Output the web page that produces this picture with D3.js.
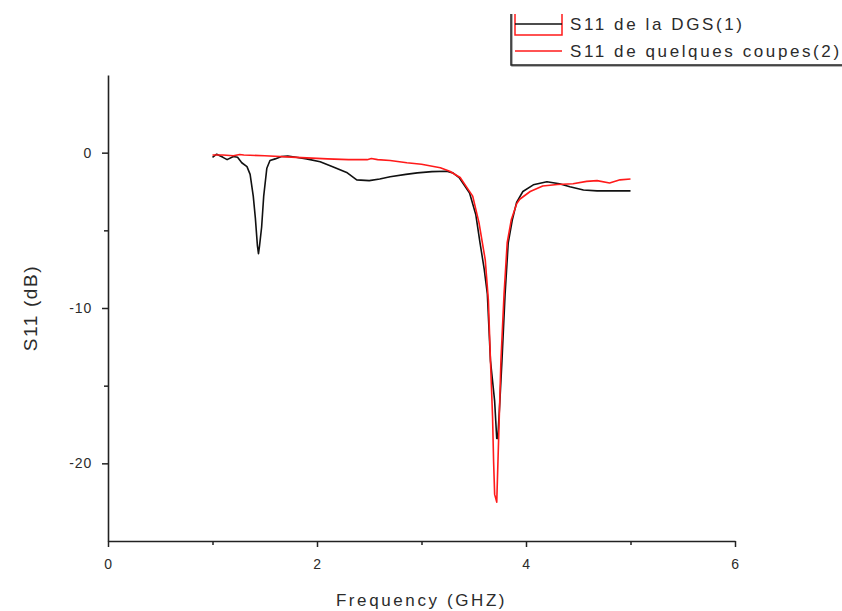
<!DOCTYPE html>
<html>
<head>
<meta charset="utf-8">
<script src="https://cdn.jsdelivr.net/npm/d3@7/dist/d3.min.js"></script>
<style>
  body { margin: 0; background: #fff; }
  .chart-text { font-family: "Liberation Sans", Arial, sans-serif; fill: #2b2b2b; }
</style>
</head>
<body>
<div id="chart"></div>
<script>
'use strict';

// S11 de la DGS (1) : frequency (GHz), S11 (dB)
var dgsFreq = [1.00, 1.04, 1.10, 1.14, 1.20, 1.24, 1.28, 1.33, 1.36, 1.39, 1.41, 1.43, 1.44, 1.45, 1.47, 1.49,
  1.52, 1.55, 1.60, 1.66, 1.72, 1.80, 1.90, 2.03, 2.15, 2.29, 2.38, 2.50, 2.60, 2.70, 2.85, 2.96, 3.10, 3.24,
  3.30, 3.36, 3.42, 3.46, 3.52, 3.56, 3.60, 3.63, 3.66, 3.70, 3.72, 3.73, 3.75, 3.77, 3.80, 3.83, 3.87, 3.91,
  3.97, 4.07, 4.20, 4.32, 4.42, 4.55, 4.68, 4.85, 5.00];
var dgsS11 = [-0.30, -0.10, -0.30, -0.45, -0.25, -0.30, -0.65, -0.90, -1.40, -2.80, -4.20, -6.00, -6.50, -6.00, -4.80, -2.80,
  -1.00, -0.50, -0.40, -0.25, -0.22, -0.30, -0.40, -0.58, -0.90, -1.30, -1.75, -1.80, -1.70, -1.55, -1.40, -1.30, -1.22, -1.20,
  -1.30, -1.60, -2.20, -2.60, -4.00, -5.80, -7.50, -9.10, -13.4, -16.0, -18.4, -18.4, -16.0, -13.4, -9.10, -5.80, -4.30, -3.20,
  -2.50, -2.07, -1.87, -2.00, -2.20, -2.40, -2.46, -2.46, -2.46];

// S11 de quelques coupes (2)
var cutFreq = [1.00, 1.10, 1.20, 1.26, 1.30, 1.50, 1.80, 2.10, 2.30, 2.48, 2.52, 2.58, 2.70, 2.86, 3.00, 3.18,
  3.27, 3.37, 3.44, 3.49, 3.55, 3.61, 3.64, 3.66, 3.68, 3.69, 3.70, 3.72, 3.74, 3.76, 3.79, 3.82, 3.86, 3.91,
  3.94, 4.04, 4.16, 4.30, 4.45, 4.58, 4.68, 4.80, 4.90, 5.00];
var cutS11 = [-0.15, -0.15, -0.20, -0.12, -0.15, -0.20, -0.30, -0.40, -0.45, -0.45, -0.38, -0.45, -0.50, -0.65, -0.75, -0.97,
  -1.20, -1.60, -2.30, -2.80, -4.50, -6.90, -9.50, -13.4, -17.0, -19.9, -22.0, -22.5, -18.0, -13.4, -9.10, -5.80, -4.30, -3.30,
  -3.00, -2.50, -2.15, -2.05, -2.00, -1.85, -1.80, -1.95, -1.75, -1.70];

var xMajorTicks = [0, 2, 4, 6];
var xMinorTicks = [1, 3, 5];
var yMajorTicks = [0, -10, -20];
var yMinorTicks = [-5, -15];

var seriesNames = ['S11 de la DGS(1)', 'S11 de quelques coupes(2)'];
var seriesColors = ['#111111', '#ff1a1a'];

var fullWidth = 842, fullHeight = 611;
var area = { left: 108, right: 735, top: 75, bottom: 541 };

var svg = d3.select('#chart')
.append('svg')
  .attr('width', fullWidth)
  .attr('height', fullHeight);

svg.append('rect')
  .attr('width', fullWidth)
  .attr('height', fullHeight)
  .attr('fill', '#fff');

var x = d3.scaleLinear().domain([0, 6]).range([area.left, area.right]);
var y = d3.scaleLinear().domain([-25, 5]).range([area.bottom, area.top]);

// plain hyphen for negatives, like the source
var tickFmt = function(d) { return String(d); };

function styleAxis(g) {
  g.select('.domain').attr('stroke', '#222').attr('stroke-width', 1.6);
  g.selectAll('.tick line').attr('stroke', '#222').attr('stroke-width', 1.5);
  g.selectAll('text')
    .attr('class', 'chart-text')
    .style('font-size', '14px')
    .style('letter-spacing', '0.8px');
}

function minorLines(g) {
  g.select('.domain').remove();
  g.selectAll('line').attr('stroke', '#222').attr('stroke-width', 1.5);
}

// x axis
svg.append('g')
  .attr('transform', 'translate(0,' + area.bottom + ')')
  .call(d3.axisBottom(x).tickValues(xMinorTicks).tickSize(4).tickFormat(''))
  .call(minorLines);

svg.append('g')
  .attr('transform', 'translate(0,' + area.bottom + ')')
  .call(d3.axisBottom(x).tickValues(xMajorTicks).tickSizeInner(6).tickSizeOuter(0).tickPadding(12).tickFormat(tickFmt))
  .call(styleAxis);

// y axis
svg.append('g')
  .attr('transform', 'translate(' + area.left + ',0)')
  .call(d3.axisLeft(y).tickValues(yMinorTicks).tickSize(4).tickFormat(''))
  .call(minorLines);

svg.append('g')
  .attr('transform', 'translate(' + area.left + ',0)')
  .call(d3.axisLeft(y).tickValues(yMajorTicks).tickSizeInner(6).tickSizeOuter(0).tickPadding(10).tickFormat(tickFmt))
  .call(styleAxis);

// axis titles
svg.append('text')
  .attr('class', 'chart-text')
  .attr('x', (area.left + area.right) / 2)
  .attr('y', 606)
  .attr('text-anchor', 'middle')
  .style('font-size', '17px')
  .style('letter-spacing', '2.6px')
  .text('Frequency (GHZ)');

svg.append('text')
  .attr('class', 'chart-text')
  .attr('transform', 'translate(37,308) rotate(-90)')
  .attr('text-anchor', 'middle')
  .style('font-size', '19px')
  .style('letter-spacing', '1.6px')
  .text('S11 (dB)');

// curves
var lineGen = d3.line()
  .x(function(d) { return x(d[0]); })
  .y(function(d) { return y(d[1]); });

var dgsData = d3.zip(dgsFreq, dgsS11);
var cutData = d3.zip(cutFreq, cutS11);

[dgsData, cutData].forEach(function(data, i) {
  svg.append('path')
    .datum(data)
    .attr('fill', 'none')
    .attr('stroke', seriesColors[i])
    .attr('stroke-width', 1.6)
    .attr('stroke-linejoin', 'round')
    .attr('d', lineGen);
});

// legend (box runs off the top and right edges)
var legend = svg.append('g').attr('transform', 'translate(511,0)');

legend.append('path')
  .attr('d', 'M1,14 V66 H340')
  .attr('fill', 'none')
  .attr('stroke', '#999')
  .attr('stroke-width', 1.5);
legend.append('path')
  .attr('d', 'M0,14 V65 H340')
  .attr('fill', 'none')
  .attr('stroke', '#222')
  .attr('stroke-width', 1.5);

// red box drawn around the first sample (as in the source)
legend.append('path')
  .attr('d', 'M4,14 V35 H51 V14')
  .attr('fill', 'none')
  .attr('stroke', seriesColors[1])
  .attr('stroke-width', 1.5);

var rowY = [24, 51];
seriesNames.forEach(function(name, i) {
  legend.append('line')
    .attr('x1', 4).attr('x2', 51)
    .attr('y1', rowY[i]).attr('y2', rowY[i])
    .attr('stroke', seriesColors[i])
    .attr('stroke-width', 1.6);
  legend.append('text')
    .attr('class', 'chart-text')
    .attr('x', 59)
    .attr('y', rowY[i] + 6)
    .style('font-size', '17px')
    .style('letter-spacing', '2.6px')
    .text(name);
});
</script>
</body>
</html>
